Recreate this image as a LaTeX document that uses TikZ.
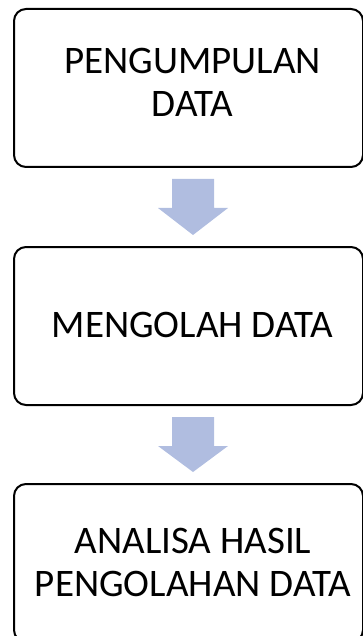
\documentclass[tikz,border=0pt]{standalone}
\usepackage{fontspec}
\setmainfont{Carlito}
\usetikzlibrary{calc}
\definecolor{arrowblue}{RGB}{176,189,224}
\begin{document}
\begin{tikzpicture}[x=1pt,y=-1pt,
  stepbox/.style={draw=black,line width=2pt,rounded corners=12pt,fill=white,
    minimum width=349pt,minimum height=158pt,inner sep=0pt,anchor=north west},
  label/.style={font=\fontsize{39}{43}\selectfont,align=center,inner sep=0pt,text=black},
  blockarrow/.style={fill=arrowblue,draw=none}]
\useasboundingbox (0,0) rectangle (363,636);
\node[stepbox] (b1) at (13,8) {};
\node[stepbox] (b2) at (13,246) {};
\node[stepbox] (b3) at (13,483) {};
\node[label] (t1) at (192.5,82.5) {PENGUMPULAN\\DATA};
\node[label] (t2) at (192.5,325) {MENGOLAH DATA};
\node[label] (t3) at (193,562) {ANALISA HASIL\\PENGOLAHAN DATA};
\foreach \a/\b in {b1/b2,b2/b3}{
  \path let \p1=(\a.south), \p2=(\b.north) in
    coordinate (s) at (193,\y1) coordinate (e) at (193,\y2);
  \fill[blockarrow] ($(s)+(-21,11)$) -- ($(s)+(21,11)$) -- ($(s)+(21,40)$)
    -- ($(s)+(35,40)$) -- ($(e)+(0,-11)$) -- ($(s)+(-35,40)$) -- ($(s)+(-21,40)$) -- cycle;
}
\end{tikzpicture}
\end{document}
